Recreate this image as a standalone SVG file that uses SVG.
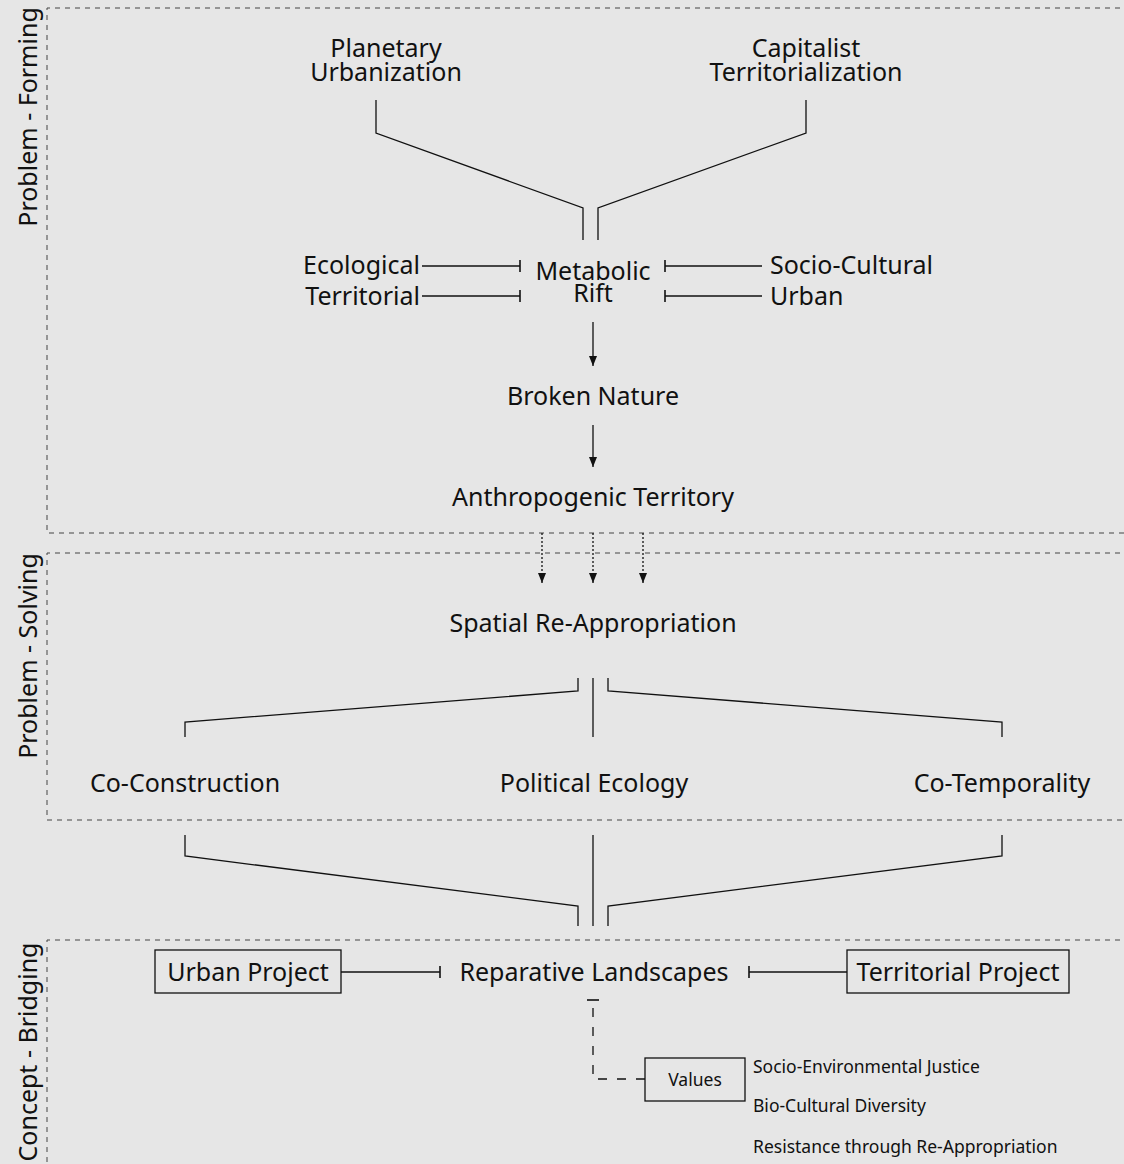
<svg xmlns="http://www.w3.org/2000/svg" width="1124" height="1164" viewBox="0 0 1124 1164">
<style>
text{font-family:"Noto Sans","Open Sans","Liberation Sans",sans-serif;fill:#111;}
.t{font-size:25px;text-anchor:middle;}
.e{font-size:25px;text-anchor:end;}
.b{font-size:25px;text-anchor:start;}
.s{font-size:17.5px;}
.lab{font-size:25px;text-anchor:middle;}
.sec{fill:none;stroke:#444;stroke-width:1;stroke-dasharray:5 5;}
.c{fill:none;stroke:#111;stroke-width:1.3;}
.box{fill:none;stroke:#111;stroke-width:1.3;}
.dot{fill:none;stroke:#111;stroke-width:1.3;stroke-dasharray:2 2;}
.dash{fill:none;stroke:#111;stroke-width:1.3;stroke-dasharray:9 10;}
</style>
<defs>
<marker id="arr" viewBox="0 0 10 10" refX="10" refY="5" markerWidth="10" markerHeight="10" markerUnits="userSpaceOnUse" orient="auto"><path d="M0,1 L10,5 L0,9 Z" fill="#111"/></marker>
<marker id="tee" viewBox="0 0 4 12" refX="2" refY="6" markerWidth="4" markerHeight="12" markerUnits="userSpaceOnUse" orient="auto"><path d="M2,0 L2,12" stroke="#111" stroke-width="1.6"/></marker>
</defs>
<rect width="1124" height="1164" fill="#e6e6e6"/>
<g id="sections">
<path class="sec" d="M1130,8 H47 V533 H1130"/>
<path class="sec" d="M1130,553 H47 V820 H1130"/>
<path class="sec" d="M1130,940 H47 V1170"/>
<text class="lab" transform="translate(37,117) rotate(-90)">Problem - Forming</text>
<text class="lab" transform="translate(37,656) rotate(-90)">Problem - Solving</text>
<text class="lab" transform="translate(37,1052) rotate(-90)">Concept - Bridging</text>
</g>
<g id="connectors">
<path class="c" d="M376,100 V133 L583,208 V240"/>
<path class="c" d="M806,100 V133 L598,208 V240"/>
<path class="c" d="M422,266 H520" marker-end="url(#tee)"/>
<path class="c" d="M422,296 H520" marker-end="url(#tee)"/>
<path class="c" d="M762,266 H665" marker-end="url(#tee)"/>
<path class="c" d="M762,296 H665" marker-end="url(#tee)"/>
<path class="c" d="M593,322 V366" marker-end="url(#arr)"/>
<path class="c" d="M593,425 V467" marker-end="url(#arr)"/>
<path class="dot" d="M542,533 V583" marker-end="url(#arr)"/>
<path class="dot" d="M593,533 V583" marker-end="url(#arr)"/>
<path class="dot" d="M643,533 V583" marker-end="url(#arr)"/>
<path class="c" d="M578,678 V691 L185,722 V737"/>
<path class="c" d="M593,678 V737"/>
<path class="c" d="M608,678 V691 L1002,722 V737"/>
<path class="c" d="M185,835 V856 L578,906 V926"/>
<path class="c" d="M593,835 V926"/>
<path class="c" d="M1002,835 V856 L608,906 V926"/>
<path class="c" d="M341,972 H440" marker-end="url(#tee)"/>
<path class="c" d="M847,972 H749" marker-end="url(#tee)"/>
<path class="dash" d="M645,1079 H593 V1000" marker-end="url(#tee)"/>
</g>
<g id="planetary"><text class="t" x="386" y="57"><tspan x="386">Planetary</tspan><tspan x="386" dy="24">Urbanization</tspan></text></g>
<g id="capitalist"><text class="t" x="806" y="57"><tspan x="806">Capitalist</tspan><tspan x="806" dy="24">Territorialization</tspan></text></g>
<g id="ecological"><text class="e" x="420" y="274">Ecological</text></g>
<g id="territorial"><text class="e" x="420" y="305">Territorial</text></g>
<g id="metabolic"><text class="t" x="593" y="280"><tspan x="593">Metabolic</tspan><tspan x="593" dy="22">Rift</tspan></text></g>
<g id="sociocultural"><text class="b" x="770" y="274">Socio-Cultural</text></g>
<g id="urban"><text class="b" x="770" y="305">Urban</text></g>
<g id="broken"><text class="t" x="593" y="405">Broken Nature</text></g>
<g id="anthropogenic"><text class="t" x="593" y="506">Anthropogenic Territory</text></g>
<g id="spatial"><text class="t" x="593" y="632">Spatial Re-Appropriation</text></g>
<g id="coconstruction"><text class="t" x="185" y="792">Co-Construction</text></g>
<g id="political"><text class="t" x="594" y="792">Political Ecology</text></g>
<g id="cotemporality"><text class="t" x="1002" y="792">Co-Temporality</text></g>
<g id="urbanproject"><rect class="box" x="155" y="950" width="186" height="43"/><text class="t" x="248" y="981">Urban Project</text></g>
<g id="reparative"><text class="t" x="594" y="981">Reparative Landscapes</text></g>
<g id="territorialproject"><rect class="box" x="847" y="950" width="222" height="43"/><text class="t" x="958" y="981">Territorial Project</text></g>
<g id="values"><rect class="box" x="645" y="1058" width="100" height="43"/><text class="s" x="695" y="1086" text-anchor="middle">Values</text></g>
<g id="valuelist"><text class="s" x="753" y="1073">Socio-Environmental Justice</text><text class="s" x="753" y="1112">Bio-Cultural Diversity</text><text class="s" x="753" y="1153">Resistance through Re-Appropriation</text></g>
</svg>
